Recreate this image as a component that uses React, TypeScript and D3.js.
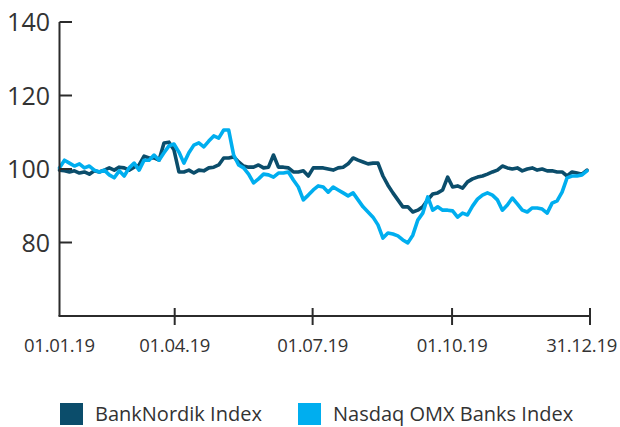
import React from "react";
import * as d3 from "d3";

const seriesNames = ["BankNordik Index", "Nasdaq OMX Banks Index"];
const seriesColors = ["#0b4d6b", "#00aeef"];

// day-of-year sampling: 107 points from day 14 to day 362
const startDay = 14;
const endDay = 362;

const bankNordik = [
  99.7, 99.5, 99.2, 99.5, 98.9, 99.2, 98.6, 99.5, 99.2, 99.7,
  100.3, 99.7, 100.5, 100.3, 99.7, 100.5, 101.1, 103.5, 103.0, 103.0,
  102.4, 107.1, 107.3, 105.2, 99.2, 99.2, 99.7, 98.9, 99.7, 99.5,
  100.3, 100.5, 101.1, 103.0, 103.0, 103.3, 101.9, 100.8, 100.5, 100.5,
  101.1, 100.3, 100.5, 103.8, 100.5, 100.5, 100.3, 99.2, 99.2, 99.5,
  98.1, 100.3, 100.3, 100.3, 100.0, 99.7, 100.3, 100.5, 101.4, 103.0,
  102.4, 101.9, 101.4, 101.6, 101.6, 98.1, 95.6, 93.5, 91.6, 89.7,
  89.7, 88.3, 88.8, 89.7, 91.6, 93.2, 93.5, 94.3, 97.8, 95.1,
  95.4, 94.8, 96.5, 97.3, 97.8, 98.1, 98.6, 99.2, 99.7, 100.8,
  100.3, 100.0, 100.3, 99.5, 100.0, 100.3, 99.7, 100.0, 99.5, 99.5,
  99.2, 99.2, 98.1, 99.2, 98.9, 98.6, 99.7,
];

const nasdaqOmxBanks = [
  100.3, 102.4, 101.6, 100.8, 101.4, 100.3, 100.8, 99.7, 99.2, 99.7,
  98.4, 97.6, 99.5, 98.1, 100.3, 101.6, 99.7, 102.4, 102.4, 103.8,
  102.4, 104.4, 106.3, 106.8, 104.6, 101.6, 104.4, 106.5, 107.1, 106.0,
  107.6, 109.0, 108.4, 110.6, 110.6, 103.8, 101.1, 100.3, 98.6, 96.2,
  97.3, 98.6, 98.4, 97.8, 98.9, 98.9, 99.2, 97.0, 95.1, 91.6,
  92.9, 94.3, 95.4, 95.1, 93.7, 95.1, 94.3, 93.5, 92.7, 93.5,
  91.6, 89.7, 88.3, 86.9, 84.8, 81.2, 82.6, 82.3, 81.8, 80.7,
  79.9, 82.0, 86.1, 88.0, 92.4, 88.8, 89.7, 88.8, 88.8, 88.6,
  86.9, 88.0, 87.5, 89.9, 91.8, 92.9, 93.5, 92.9, 91.6, 88.8,
  90.2, 92.1, 90.5, 88.8, 88.3, 89.4, 89.4, 89.1, 88.0, 90.7,
  91.3, 93.7, 97.6, 98.1, 98.1, 98.4, 99.5,
];

const yTicks = [80, 100, 120, 140];
const xTickDays = [14, 90, 181, 273, 364];
const xTickLabels = ["01.01.19", "01.04.19", "01.07.19", "01.10.19", "31.12.19"];

const W = 620;
const H = 427;
const FONT = "'Open Sans', 'DejaVu Sans', sans-serif";

export default function App() {
  const x = d3.scaleLinear().domain([14, 364]).range([59.5, 590]);
  const y = d3.scaleLinear().domain([60, 140]).range([316, 22]);

  const n = bankNordik.length;
  const dayAt = (i: number) => startDay + (i * (endDay - startDay)) / (n - 1);

  const line = d3
    .line<number>()
    .x((_, i) => x(dayAt(i)))
    .y((d) => y(d))
    .curve(d3.curveLinear);

  const series = [bankNordik, nasdaqOmxBanks];
  const axisColor = "#2b2b2b";
  const textColor = "#333333";

  return (
    <svg
      width={W}
      height={H}
      style={{ position: "absolute", left: 0, top: 0, background: "#fff" }}
      fontFamily={FONT}
    >
      {[0, 1].map((k) => (
        <path
          key={k}
          d={line(series[k]) || ""}
          fill="none"
          stroke={seriesColors[k]}
          strokeWidth={3.6}
          strokeLinejoin="round"
          strokeLinecap="round"
        />
      ))}

      {/* y axis */}
      <line x1={59.5} x2={59.5} y1={y(140)} y2={y(60)} stroke={axisColor} strokeWidth={2} />
      {yTicks.map((t) => (
        <g key={t}>
          <line x1={59.5} x2={72} y1={y(t)} y2={y(t)} stroke={axisColor} strokeWidth={2} />
          <text x={50} y={y(t)} dy="0.36em" textAnchor="end" fontSize={25} fill={textColor}>
            {t}
          </text>
        </g>
      ))}

      {/* x axis */}
      <line x1={58.5} x2={x(364)} y1={y(60)} y2={y(60)} stroke={axisColor} strokeWidth={2} />
      {xTickDays.map((d, i) => {
        const last = i === xTickDays.length - 1;
        return (
          <g key={d}>
            {i > 0 && (
              <line x1={x(d)} x2={x(d)} y1={y(60) - 8} y2={y(60) + 9} stroke={axisColor} strokeWidth={2} />
            )}
            <text
              x={last ? W - 3 : x(d)}
              y={352}
              textAnchor={last ? "end" : "middle"}
              fontSize={18.5}
              fill={textColor}
              letterSpacing={-0.3}
            >
              {xTickLabels[i]}
            </text>
          </g>
        );
      })}

      {/* legend */}
      {seriesNames.map((name, i) => {
        const lx = i === 0 ? 60 : 298;
        return (
          <g key={name}>
            <rect x={lx} y={403} width={23} height={22} fill={seriesColors[i]} />
            <text x={lx + 35} y={421} fontSize={20} fill={textColor}>
              {name}
            </text>
          </g>
        );
      })}
    </svg>
  );
}
